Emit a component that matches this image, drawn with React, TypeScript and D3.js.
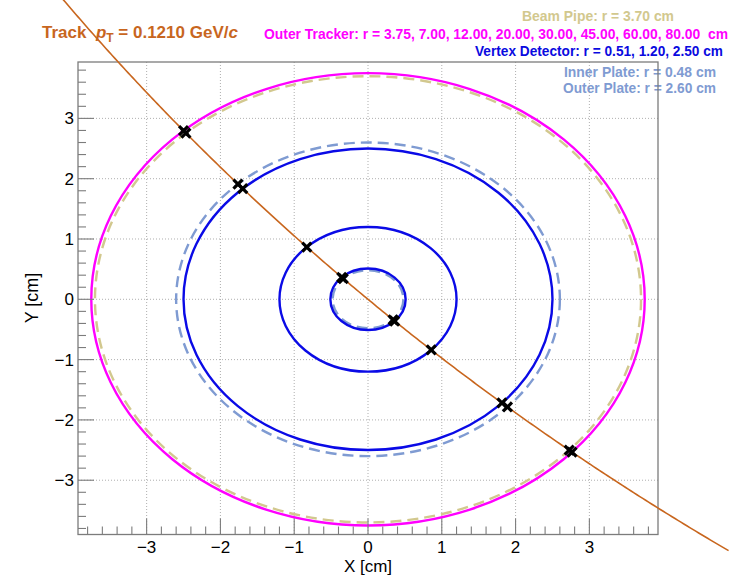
import React from 'react';
import * as d3 from 'd3';

// detector layers (cm)
const beamPipeRadii = [3.7];
const outerTrackerRadii = [3.75, 7.0, 12.0, 20.0, 30.0, 45.0, 60.0, 80.0];
const vertexRadii = [0.51, 1.2, 2.5];
const innerPlateRadii = [0.48];
const outerPlateRadii = [2.6];

// track (helix projected on the transverse plane)
const trackPt = 0.121; // GeV/c
const trackRadiusCm = 37.7;
const trackPhiDeg = 134.65; // direction at the origin
const trackArcRange = [-6.43, 8.5]; // cm of arc drawn on each side

const majorTicks = [-3, -2, -1, 0, 1, 2, 3];
const minorTicks = d3.range(-19, 20).map((i) => i / 5).filter((v) => Math.abs(v - Math.round(v)) > 1e-6);

const legendLines = [
  { text: 'Beam Pipe: r = 3.70 cm', color: '#d2c88e', x0: 522, x1: 674, y: 21 },
  { text: 'Outer Tracker: r = 3.75, 7.00, 12.00, 20.00, 30.00, 45.00, 60.00, 80.00  cm', color: '#ff00ff', x0: 264, x1: 728, y: 39 },
  { text: 'Vertex Detector: r = 0.51, 1.20, 2.50 cm', color: '#0a0ae0', x0: 475, x1: 723, y: 56 },
  { text: 'Inner Plate: r = 0.48 cm', color: '#7f9bd2', x0: 564, x1: 716, y: 77 },
  { text: 'Outer Plate: r = 2.60 cm', color: '#7f9bd2', x0: 563, x1: 716, y: 93 },
];

const W = 738;
const H = 577;
const frame = { left: 78, right: 658, top: 62, bottom: 534.5 };
const TRACK = '#c8661e';
const FRAME = '#7c7c7c';
const FONT = '"Liberation Sans", Arial, Helvetica, sans-serif';

export default function App() {
  const x = d3.scaleLinear().domain([-3.93, 3.93]).range([frame.left, frame.right]);
  const y = d3.scaleLinear().domain([-3.9, 3.935]).range([frame.bottom, frame.top]);

  const phi = (trackPhiDeg * Math.PI) / 180;
  // centre of curvature is clockwise of the travel direction
  const cx = trackRadiusCm * Math.cos(phi - Math.PI / 2);
  const cy = trackRadiusCm * Math.sin(phi - Math.PI / 2);
  const trackPoint = (s: number): [number, number] => {
    const a = phi + Math.PI / 2 - s / trackRadiusCm;
    return [cx + trackRadiusCm * Math.cos(a), cy + trackRadiusCm * Math.sin(a)];
  };
  const trackPts = d3.range(trackArcRange[0], trackArcRange[1], 0.05).map(trackPoint);
  const trackPath = d3
    .line<[number, number]>()
    .x((d) => x(d[0]))
    .y((d) => y(d[1]))(trackPts);

  // hits: intersections of the track with every layer inside the frame
  const hitRadii = [...innerPlateRadii, ...vertexRadii, ...outerPlateRadii, ...beamPipeRadii, ...outerTrackerRadii].filter((r) => r < 3.9);
  const hits: [number, number][] = [];
  hitRadii.forEach((r) => {
    const th = Math.asin(r / (2 * trackRadiusCm));
    hits.push([r * Math.cos(phi - th), r * Math.sin(phi - th)]);
    hits.push([r * Math.cos(phi + Math.PI + th), r * Math.sin(phi + Math.PI + th)]);
  });

  const ellipse = (r: number, color: string, dashed: boolean, key: string) => (
    <ellipse
      key={key}
      cx={x(0)}
      cy={y(0)}
      rx={x(r) - x(0)}
      ry={y(0) - y(r)}
      fill="none"
      stroke={color}
      strokeWidth={2.4}
      strokeDasharray={dashed ? '11 6' : undefined}
    />
  );

  const fmt = (t: number) => (t < 0 ? '\u2212' + Math.abs(t) : String(t));

  return (
    <svg width={W} height={H} style={{ position: 'absolute', left: 0, top: 0, background: '#fff' }} fontFamily={FONT}>
      <rect x={0} y={0} width={W} height={H} fill="#fff" />

      {/* legend texts */}
      {legendLines.map((l) => (
        <text
          key={l.text}
          x={l.x0}
          y={l.y}
          fontSize={14}
          fontWeight="bold"
          fill={l.color}
          textLength={l.x1 - l.x0}
          lengthAdjust="spacingAndGlyphs"
          style={{ whiteSpace: 'pre' }}
        >
          {l.text}
        </text>
      ))}

      {/* grid */}
      {majorTicks.map((t) => (
        <g key={'g' + t} stroke="#9a9a9a" strokeWidth={0.8} strokeDasharray="1 2">
          <line x1={x(t)} x2={x(t)} y1={frame.top} y2={frame.bottom} />
          <line x1={frame.left} x2={frame.right} y1={y(t)} y2={y(t)} />
        </g>
      ))}

      {/* detector layers */}
      {beamPipeRadii.map((r) => ellipse(r, '#d2c88e', true, 'bp' + r))}
      {outerTrackerRadii.filter((r) => r < 3.9).map((r) => ellipse(r, '#ff00ff', false, 'ot' + r))}
      {innerPlateRadii.map((r) => ellipse(r, '#7f9bd2', true, 'ip' + r))}
      {outerPlateRadii.map((r) => ellipse(r, '#7f9bd2', true, 'op' + r))}
      {vertexRadii.map((r) => ellipse(r, '#0a0ae6', false, 'vx' + r))}

      {/* frame and ticks */}
      <rect x={frame.left} y={frame.top} width={frame.right - frame.left} height={frame.bottom - frame.top} fill="none" stroke={FRAME} strokeWidth={1.3} />
      <g stroke={FRAME} strokeWidth={1.1}>
        {majorTicks.map((t) => (
          <g key={'mt' + t}>
            <line x1={x(t)} x2={x(t)} y1={frame.bottom} y2={frame.bottom - 16} />
            <line x1={frame.left} x2={frame.left + 16} y1={y(t)} y2={y(t)} />
          </g>
        ))}
        {minorTicks.map((t) => (
          <g key={'nt' + t}>
            <line x1={x(t)} x2={x(t)} y1={frame.bottom} y2={frame.bottom - 8} />
            <line x1={frame.left} x2={frame.left + 8} y1={y(t)} y2={y(t)} />
          </g>
        ))}
      </g>

      {/* tick labels */}
      {majorTicks.map((t) => (
        <text key={'xl' + t} x={x(t)} y={553} fontSize={17} textAnchor="middle" fill="#000">
          {fmt(t)}
        </text>
      ))}
      {majorTicks.map((t) => (
        <text key={'yl' + t} x={74} y={y(t) + 6} fontSize={17} textAnchor="end" fill="#000">
          {fmt(t)}
        </text>
      ))}

      {/* axis titles */}
      <text x={368} y={572} fontSize={17} textAnchor="middle" fill="#000">X [cm]</text>
      <text transform="translate(38,298) rotate(-90)" fontSize={18} textAnchor="middle" fill="#000">Y [cm]</text>

      {/* track label */}
      <text x={42} y={38} fontSize={17} fontWeight="bold" fill={TRACK} style={{ whiteSpace: 'pre' }}>
        {'Track  '}
        <tspan fontStyle="italic">p</tspan>
        <tspan dy={4} fontSize={12}>T</tspan>
        <tspan dy={-4}>{` = ${trackPt.toFixed(4)} GeV/`}</tspan>
        <tspan fontStyle="italic">c</tspan>
      </text>

      {/* track */}
      <path d={trackPath ?? ''} fill="none" stroke={TRACK} strokeWidth={1.6} />

      {/* hits */}
      <g stroke="#000" strokeWidth={3.2} strokeLinecap="butt">
        {hits.map((h, i) => (
          <path
            key={'h' + i}
            d={`M${x(h[0]) - 4.5},${y(h[1]) - 4.5}L${x(h[0]) + 4.5},${y(h[1]) + 4.5}M${x(h[0]) - 4.5},${y(h[1]) + 4.5}L${x(h[0]) + 4.5},${y(h[1]) - 4.5}`}
          />
        ))}
      </g>
    </svg>
  );
}
